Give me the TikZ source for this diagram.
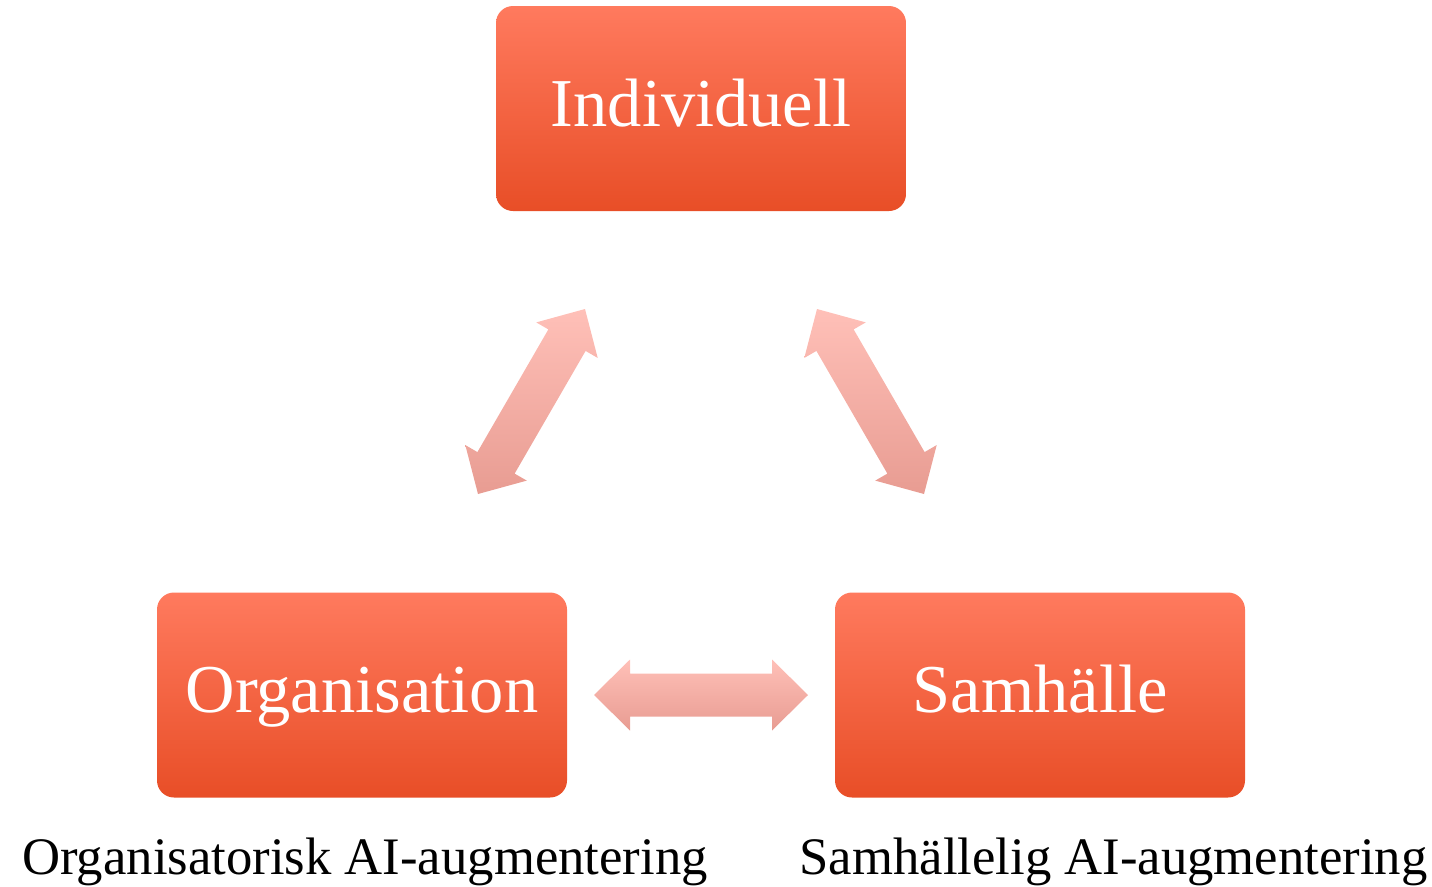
\documentclass[tikz,border=0pt]{standalone}
\usepackage{fontspec}
\setmainfont{Liberation Serif}
\usetikzlibrary{calc}
\definecolor{boxtop}{HTML}{FF7A5E}
\definecolor{boxmid}{HTML}{FF5F3B}
\definecolor{boxbot}{HTML}{E84E27}
\definecolor{arrtop}{HTML}{FFC0B8}
\definecolor{arrbot}{HTML}{E89C92}
\tikzset{
  levelbox/.style={rounded corners=17pt, minimum width=410pt, minimum height=205pt,
    inner sep=0pt, top color=boxtop, middle color=boxmid, bottom color=boxbot, draw=none,
    text=white, font=\fontsize{68.5}{72}\selectfont, text height=48pt, text depth=13pt},
  caption/.style={anchor=base, font=\fontsize{52.7}{58}\selectfont, text=black, inner sep=0pt},
  blockarr/.style={top color=arrtop, bottom color=arrbot, draw=none}
}
\newcommand\blockarrow[3]{%
  \coordinate (#1a) at #2;
  \coordinate (#1b) at #3;
  \coordinate (#1ca) at ($(#1a)!36pt!(#1b)$);
  \coordinate (#1cb) at ($(#1b)!36pt!(#1a)$);
  \path[blockarr] (#1a)
    -- ($(#1ca)!35.5pt!90:(#1a)$) -- ($(#1ca)!21.5pt!90:(#1a)$)
    -- ($(#1cb)!21.5pt!90:(#1a)$) -- ($(#1cb)!35.5pt!90:(#1a)$)
    -- (#1b)
    -- ($(#1cb)!35.5pt!-90:(#1a)$) -- ($(#1cb)!21.5pt!-90:(#1a)$)
    -- ($(#1ca)!21.5pt!-90:(#1a)$) -- ($(#1ca)!35.5pt!-90:(#1a)$)
    -- cycle;
}
\begin{document}
\begin{tikzpicture}[x=1pt, y=-1pt]
  \useasboundingbox (0,0) rectangle (1432,886);
  \node[levelbox] (ind) at (701,108.5) {Individuell};
  \node[levelbox] (org) at (362,695) {Organisation};
  \node[levelbox] (sam) at (1040,695) {Samhälle};
  \blockarrow{l}{(585,309)}{(478,494)}
  \blockarrow{r}{(817,309)}{(924,494)}
  \blockarrow{h}{(594,695)}{(808,695)}
  \node[caption] (orgcap) at (365,874) {Organisatorisk AI-augmentering};
  \node[caption] (samcap) at (1113.5,874) {Samhällelig AI-augmentering};
\end{tikzpicture}
\end{document}
